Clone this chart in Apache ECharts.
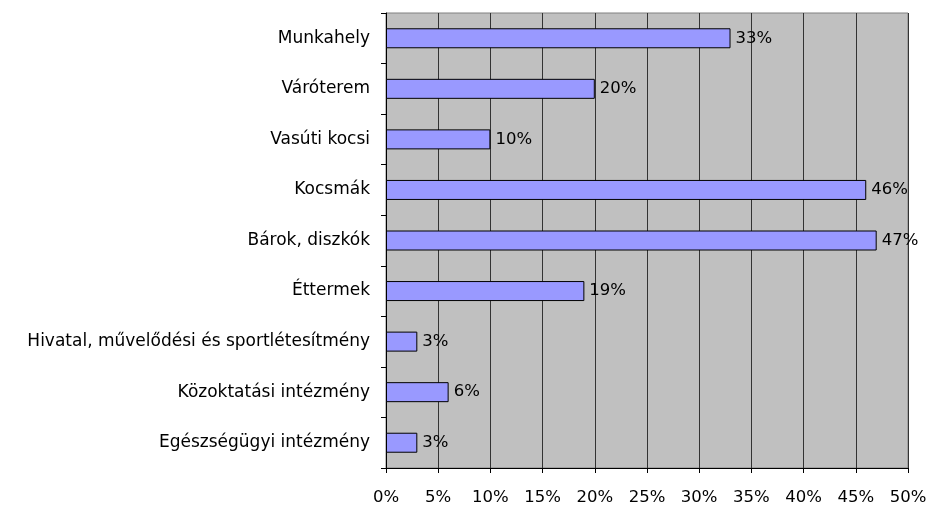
<!DOCTYPE html>
<html>
<head>
<meta charset="utf-8">
<script src="https://cdn.jsdelivr.net/npm/echarts@6/dist/echarts.min.js"></script>
<style>
    html, body { margin: 0; padding: 0; background: #fff; }
    #chart { width: 931px; height: 510px; }
</style>
</head>
<body>
<div id="chart"></div>
<script>
// categories listed top to bottom
const categories = [
    'Munkahely',
    'Váróterem',
    'Vasúti kocsi',
    'Kocsmák',
    'Bárok, diszkók',
    'Éttermek',
    'Hivatal, művelődési és sportlétesítmény',
    'Közoktatási intézmény',
    'Egészségügyi intézmény'
];
const values = [33, 20, 10, 46, 47, 19, 3, 6, 3];
const xTicks = [0, 5, 10, 15, 20, 25, 30, 35, 40, 45, 50];

const font = 'DejaVu Sans, Arial, sans-serif';

const option = {
    animation: false,
    grid: {
        left: 386,
        top: 13,
        right: 23,
        bottom: 42,
        show: true,
        backgroundColor: '#c0c0c0',
        borderColor: '#808080',
        borderWidth: 1
    },
    xAxis: {
        type: 'value',
        min: xTicks[0],
        max: xTicks[xTicks.length - 1],
        interval: 5,
        axisLine: { show: true, lineStyle: { color: '#000' } },
        axisTick: { show: true, length: 5, lineStyle: { color: '#000' } },
        splitLine: { show: true, lineStyle: { color: '#333', width: 1 } },
        axisLabel: {
            color: '#000',
            fontFamily: font,
            fontSize: 16.5,
            margin: 21,
            formatter: '{value}%'
        }
    },
    yAxis: {
        type: 'category',
        inverse: true,
        data: categories,
        axisLine: { show: true, lineStyle: { color: '#000' } },
        axisTick: { show: true, length: 5, alignWithLabel: false, lineStyle: { color: '#000' } },
        axisLabel: {
            color: '#000',
            fontFamily: font,
            fontSize: 17,
            margin: 16
        }
    },
    series: [
        {
            type: 'bar',
            data: values,
            barWidth: 20,
            itemStyle: {
                color: '#9999ff',
                borderColor: '#000',
                borderWidth: 1
            },
            label: {
                show: true,
                position: 'right',
                distance: 5,
                color: '#000',
                fontFamily: font,
                fontSize: 16.5,
                formatter: '{c}%'
            }
        }
    ]
};

const chart = echarts.init(document.getElementById('chart'));
chart.setOption(option);
</script>
</body>
</html>
